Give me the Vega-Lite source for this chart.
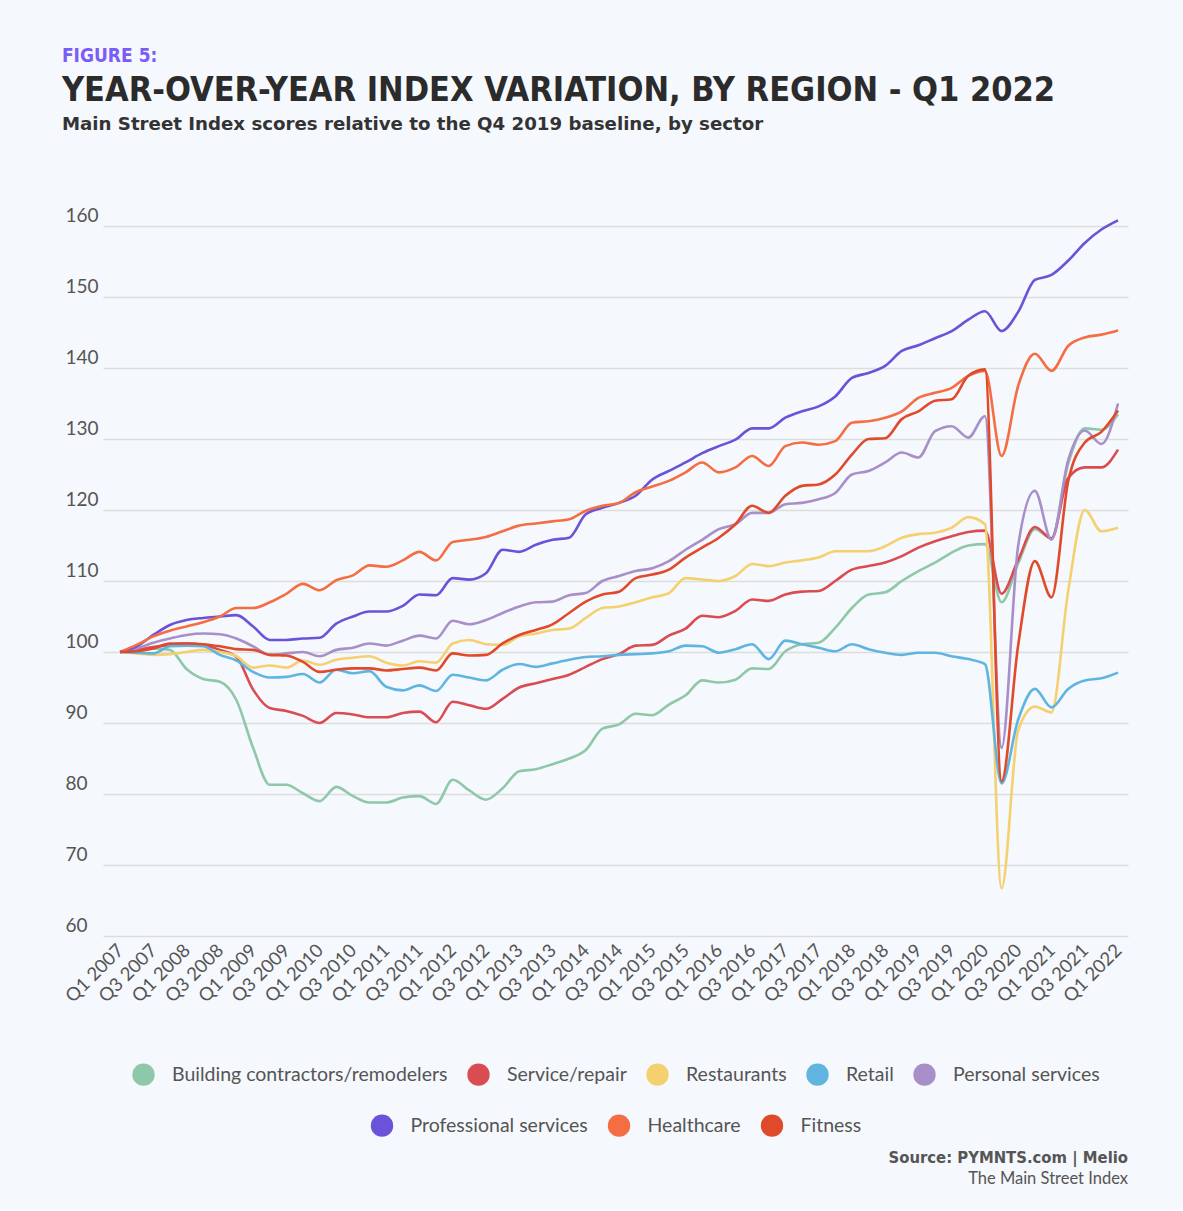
{
  "$schema": "https://vega.github.io/schema/vega-lite/v6.json",
  "background": "#f5f8fc",
  "padding": {"left": 61, "top": 46, "right": 55, "bottom": 22},
  "title": {"text": "FIGURE 5:", "anchor": "start", "font": "DejaVu Sans Condensed, sans-serif", "fontSize": 19, "fontWeight": "bold", "color": "#7b5cf6", "offset": 8},
  "spacing": 0,
  "vconcat": [
    {
      "title": {"text": "YEAR-OVER-YEAR INDEX VARIATION, BY REGION - Q1 2022", "subtitle": "Main Street Index scores relative to the Q4 2019 baseline, by sector", "anchor": "start", "font": "DejaVu Sans Condensed, sans-serif", "fontSize": 34, "fontWeight": "bold", "color": "#2b2b2b", "subtitleFont": "DejaVu Sans, sans-serif", "subtitleFontSize": 18.2, "subtitleFontWeight": "bold", "subtitleColor": "#333333", "subtitlePadding": 8, "offset": 73},
      "vconcat": [
        {
          "width": 1025,
          "height": 710,
          "title": {"text": "Source: PYMNTS.com  |  Melio", "subtitle": "The Main Street Index", "orient": "bottom", "anchor": "end", "font": "DejaVu Sans Condensed, sans-serif", "fontSize": 16.5, "fontWeight": "bold", "color": "#555555", "subtitleFont": "Lato", "subtitleFontSize": 16.5, "subtitleColor": "#555555", "subtitlePadding": 4, "offset": 13},
          "data": {"values": [
            {"t": 2007, "Building contractors/remodelers": 100, "Service/repair": 100, "Restaurants": 100, "Retail": 100, "Personal services": 100, "Professional services": 100, "Healthcare": 100, "Fitness": 100},
            {"t": 2007.25, "Building contractors/remodelers": 100.2, "Service/repair": 100.3, "Restaurants": 99.8, "Retail": 99.9, "Personal services": 100.5, "Professional services": 100.8, "Healthcare": 101, "Fitness": 100.1},
            {"t": 2007.5, "Building contractors/remodelers": 100.5, "Service/repair": 100.7, "Restaurants": 99.6, "Retail": 99.8, "Personal services": 101.3, "Professional services": 102.4, "Healthcare": 102.2, "Fitness": 100.5},
            {"t": 2007.75, "Building contractors/remodelers": 100.3, "Service/repair": 101, "Restaurants": 99.7, "Retail": 100.8, "Personal services": 101.9, "Professional services": 103.8, "Healthcare": 103, "Fitness": 101.2},
            {"t": 2008, "Building contractors/remodelers": 97.6, "Service/repair": 101.2, "Restaurants": 100, "Retail": 100.9, "Personal services": 102.4, "Professional services": 104.5, "Healthcare": 103.6, "Fitness": 101.2},
            {"t": 2008.25, "Building contractors/remodelers": 96.2, "Service/repair": 101, "Restaurants": 100.3, "Retail": 100.8, "Personal services": 102.6, "Professional services": 104.8, "Healthcare": 104.2, "Fitness": 101.1},
            {"t": 2008.5, "Building contractors/remodelers": 95.8, "Service/repair": 100.3, "Restaurants": 100, "Retail": 99.6, "Personal services": 102.5, "Professional services": 105, "Healthcare": 105, "Fitness": 100.8},
            {"t": 2008.75, "Building contractors/remodelers": 93.2, "Service/repair": 99.3, "Restaurants": 99.4, "Retail": 98.8, "Personal services": 101.9, "Professional services": 105.2, "Healthcare": 106.2, "Fitness": 100.4},
            {"t": 2009, "Building contractors/remodelers": 86.5, "Service/repair": 94.7, "Restaurants": 97.8, "Retail": 97.2, "Personal services": 100.8, "Professional services": 103.6, "Healthcare": 106.2, "Fitness": 100.3},
            {"t": 2009.25, "Building contractors/remodelers": 81.3, "Service/repair": 92.1, "Restaurants": 98.1, "Retail": 96.4, "Personal services": 99.6, "Professional services": 101.7, "Healthcare": 107, "Fitness": 99.6},
            {"t": 2009.5, "Building contractors/remodelers": 81.3, "Service/repair": 91.7, "Restaurants": 97.8, "Retail": 96.5, "Personal services": 99.8, "Professional services": 101.7, "Healthcare": 108.2, "Fitness": 99.5},
            {"t": 2009.75, "Building contractors/remodelers": 80.1, "Service/repair": 91, "Restaurants": 98.8, "Retail": 96.9, "Personal services": 100, "Professional services": 101.9, "Healthcare": 109.6, "Fitness": 98.6},
            {"t": 2010, "Building contractors/remodelers": 79, "Service/repair": 90, "Restaurants": 98.2, "Retail": 95.7, "Personal services": 99.4, "Professional services": 102, "Healthcare": 108.7, "Fitness": 97.2},
            {"t": 2010.25, "Building contractors/remodelers": 81, "Service/repair": 91.4, "Restaurants": 98.9, "Retail": 97.5, "Personal services": 100.3, "Professional services": 104, "Healthcare": 110.1, "Fitness": 97.5},
            {"t": 2010.5, "Building contractors/remodelers": 79.7, "Service/repair": 91.2, "Restaurants": 99.2, "Retail": 97, "Personal services": 100.6, "Professional services": 105, "Healthcare": 110.8, "Fitness": 97.7},
            {"t": 2010.75, "Building contractors/remodelers": 78.8, "Service/repair": 90.8, "Restaurants": 99.4, "Retail": 97.3, "Personal services": 101.2, "Professional services": 105.7, "Healthcare": 112.2, "Fitness": 97.7},
            {"t": 2011, "Building contractors/remodelers": 78.8, "Service/repair": 90.8, "Restaurants": 98.5, "Retail": 95.1, "Personal services": 100.9, "Professional services": 105.7, "Healthcare": 112, "Fitness": 97.4},
            {"t": 2011.25, "Building contractors/remodelers": 79.5, "Service/repair": 91.4, "Restaurants": 98.1, "Retail": 94.6, "Personal services": 101.6, "Professional services": 106.5, "Healthcare": 112.9, "Fitness": 97.6},
            {"t": 2011.5, "Building contractors/remodelers": 79.7, "Service/repair": 91.6, "Restaurants": 98.7, "Retail": 95.3, "Personal services": 102.3, "Professional services": 108.1, "Healthcare": 114.1, "Fitness": 97.8},
            {"t": 2011.75, "Building contractors/remodelers": 78.6, "Service/repair": 90.1, "Restaurants": 98.5, "Retail": 94.5, "Personal services": 101.9, "Professional services": 108, "Healthcare": 112.9, "Fitness": 97.4},
            {"t": 2012, "Building contractors/remodelers": 82, "Service/repair": 93, "Restaurants": 101.2, "Retail": 96.8, "Personal services": 104.4, "Professional services": 110.4, "Healthcare": 115.5, "Fitness": 99.8},
            {"t": 2012.25, "Building contractors/remodelers": 80.5, "Service/repair": 92.5, "Restaurants": 101.7, "Retail": 96.4, "Personal services": 103.9, "Professional services": 110.2, "Healthcare": 115.8, "Fitness": 99.5},
            {"t": 2012.5, "Building contractors/remodelers": 79.2, "Service/repair": 92, "Restaurants": 101.1, "Retail": 96, "Personal services": 104.5, "Professional services": 111.1, "Healthcare": 116.2, "Fitness": 99.6},
            {"t": 2012.75, "Building contractors/remodelers": 80.8, "Service/repair": 93.4, "Restaurants": 101, "Retail": 97.5, "Personal services": 105.5, "Professional services": 114.4, "Healthcare": 117, "Fitness": 101.2},
            {"t": 2013, "Building contractors/remodelers": 83.2, "Service/repair": 95, "Restaurants": 102.2, "Retail": 98.3, "Personal services": 106.4, "Professional services": 114.1, "Healthcare": 117.8, "Fitness": 102.4},
            {"t": 2013.25, "Building contractors/remodelers": 83.5, "Service/repair": 95.6, "Restaurants": 102.6, "Retail": 97.9, "Personal services": 107, "Professional services": 115.1, "Healthcare": 118.1, "Fitness": 103.1},
            {"t": 2013.5, "Building contractors/remodelers": 84.2, "Service/repair": 96.2, "Restaurants": 103.1, "Retail": 98.4, "Personal services": 107.1, "Professional services": 115.8, "Healthcare": 118.4, "Fitness": 103.9},
            {"t": 2013.75, "Building contractors/remodelers": 85, "Service/repair": 96.8, "Restaurants": 103.3, "Retail": 98.9, "Personal services": 108, "Professional services": 116.1, "Healthcare": 118.7, "Fitness": 105.5},
            {"t": 2014, "Building contractors/remodelers": 86.2, "Service/repair": 97.9, "Restaurants": 104.8, "Retail": 99.3, "Personal services": 108.3, "Professional services": 119.4, "Healthcare": 119.9, "Fitness": 107.1},
            {"t": 2014.25, "Building contractors/remodelers": 89.2, "Service/repair": 99, "Restaurants": 106.2, "Retail": 99.4, "Personal services": 110, "Professional services": 120.3, "Healthcare": 120.6, "Fitness": 108.1},
            {"t": 2014.5, "Building contractors/remodelers": 89.8, "Service/repair": 99.7, "Restaurants": 106.4, "Retail": 99.6, "Personal services": 110.7, "Professional services": 121, "Healthcare": 121, "Fitness": 108.5},
            {"t": 2014.75, "Building contractors/remodelers": 91.3, "Service/repair": 100.9, "Restaurants": 107, "Retail": 99.7, "Personal services": 111.4, "Professional services": 122, "Healthcare": 122.5, "Fitness": 110.4},
            {"t": 2015, "Building contractors/remodelers": 91.1, "Service/repair": 101, "Restaurants": 107.7, "Retail": 99.8, "Personal services": 111.8, "Professional services": 124.3, "Healthcare": 123.3, "Fitness": 110.9},
            {"t": 2015.25, "Building contractors/remodelers": 92.6, "Service/repair": 102.3, "Restaurants": 108.3, "Retail": 100.1, "Personal services": 112.8, "Professional services": 125.5, "Healthcare": 124.1, "Fitness": 111.6},
            {"t": 2015.5, "Building contractors/remodelers": 93.9, "Service/repair": 103.3, "Restaurants": 110.4, "Retail": 100.9, "Personal services": 114.4, "Professional services": 126.7, "Healthcare": 125.3, "Fitness": 113.3},
            {"t": 2015.75, "Building contractors/remodelers": 96, "Service/repair": 105.1, "Restaurants": 110.2, "Retail": 100.8, "Personal services": 115.8, "Professional services": 128, "Healthcare": 126.7, "Fitness": 114.7},
            {"t": 2016, "Building contractors/remodelers": 95.7, "Service/repair": 104.9, "Restaurants": 110, "Retail": 99.9, "Personal services": 117.3, "Professional services": 129, "Healthcare": 125.3, "Fitness": 116.1},
            {"t": 2016.25, "Building contractors/remodelers": 96.1, "Service/repair": 105.8, "Restaurants": 110.7, "Retail": 100.4, "Personal services": 118, "Professional services": 129.9, "Healthcare": 126, "Fitness": 118},
            {"t": 2016.5, "Building contractors/remodelers": 97.7, "Service/repair": 107.4, "Restaurants": 112.4, "Retail": 101.1, "Personal services": 119.6, "Professional services": 131.5, "Healthcare": 127.6, "Fitness": 120.6},
            {"t": 2016.75, "Building contractors/remodelers": 97.6, "Service/repair": 107.2, "Restaurants": 112.1, "Retail": 99, "Personal services": 119.6, "Professional services": 131.5, "Healthcare": 126.2, "Fitness": 119.6},
            {"t": 2017, "Building contractors/remodelers": 100.1, "Service/repair": 108.1, "Restaurants": 112.6, "Retail": 101.6, "Personal services": 120.8, "Professional services": 133, "Healthcare": 129, "Fitness": 122},
            {"t": 2017.25, "Building contractors/remodelers": 101.1, "Service/repair": 108.5, "Restaurants": 112.9, "Retail": 101.1, "Personal services": 121, "Professional services": 133.9, "Healthcare": 129.5, "Fitness": 123.4},
            {"t": 2017.5, "Building contractors/remodelers": 101.3, "Service/repair": 108.6, "Restaurants": 113.3, "Retail": 100.6, "Personal services": 121.5, "Professional services": 134.6, "Healthcare": 129.2, "Fitness": 123.6},
            {"t": 2017.75, "Building contractors/remodelers": 103.4, "Service/repair": 110, "Restaurants": 114.2, "Retail": 100.1, "Personal services": 122.4, "Professional services": 136, "Healthcare": 129.7, "Fitness": 125},
            {"t": 2018, "Building contractors/remodelers": 106.2, "Service/repair": 111.6, "Restaurants": 114.2, "Retail": 101.1, "Personal services": 125, "Professional services": 138.6, "Healthcare": 132.3, "Fitness": 127.8},
            {"t": 2018.25, "Building contractors/remodelers": 108.1, "Service/repair": 112.1, "Restaurants": 114.2, "Retail": 100.4, "Personal services": 125.5, "Professional services": 139.3, "Healthcare": 132.5, "Fitness": 130},
            {"t": 2018.5, "Building contractors/remodelers": 108.4, "Service/repair": 112.6, "Restaurants": 114.9, "Retail": 99.9, "Personal services": 126.7, "Professional services": 140.3, "Healthcare": 133, "Fitness": 130.1},
            {"t": 2018.75, "Building contractors/remodelers": 110, "Service/repair": 113.5, "Restaurants": 116.1, "Retail": 99.6, "Personal services": 128.1, "Professional services": 142.4, "Healthcare": 133.9, "Fitness": 132.8},
            {"t": 2019, "Building contractors/remodelers": 111.4, "Service/repair": 114.7, "Restaurants": 116.6, "Retail": 99.9, "Personal services": 127.4, "Professional services": 143.2, "Healthcare": 135.8, "Fitness": 133.9},
            {"t": 2019.25, "Building contractors/remodelers": 112.6, "Service/repair": 115.6, "Restaurants": 116.8, "Retail": 99.9, "Personal services": 131.1, "Professional services": 144.2, "Healthcare": 136.5, "Fitness": 135.4},
            {"t": 2019.5, "Building contractors/remodelers": 114, "Service/repair": 116.3, "Restaurants": 117.5, "Retail": 99.4, "Personal services": 131.8, "Professional services": 145.2, "Healthcare": 137.2, "Fitness": 135.6},
            {"t": 2019.75, "Building contractors/remodelers": 115, "Service/repair": 116.9, "Restaurants": 119, "Retail": 99, "Personal services": 130.2, "Professional services": 146.8, "Healthcare": 138.9, "Fitness": 138.9},
            {"t": 2020, "Building contractors/remodelers": 115.2, "Service/repair": 117.1, "Restaurants": 118, "Retail": 98.3, "Personal services": 133.2, "Professional services": 148, "Healthcare": 139.6, "Fitness": 139.8},
            {"t": 2020.25, "Building contractors/remodelers": 107, "Service/repair": 108.2, "Restaurants": 66.7, "Retail": 81.5, "Personal services": 86.5, "Professional services": 145.2, "Healthcare": 127.6, "Fitness": 81.8},
            {"t": 2020.5, "Building contractors/remodelers": 112.5, "Service/repair": 113, "Restaurants": 89, "Retail": 90.5, "Personal services": 115, "Professional services": 147.9, "Healthcare": 137.5, "Fitness": 101},
            {"t": 2020.75, "Building contractors/remodelers": 117.3, "Service/repair": 117.6, "Restaurants": 92.3, "Retail": 94.8, "Personal services": 122.7, "Professional services": 152.4, "Healthcare": 142, "Fitness": 112.8},
            {"t": 2021, "Building contractors/remodelers": 116, "Service/repair": 116, "Restaurants": 91.5, "Retail": 92.2, "Personal services": 115.8, "Professional services": 153.1, "Healthcare": 139.6, "Fitness": 107.7},
            {"t": 2021.25, "Building contractors/remodelers": 126.5, "Service/repair": 124.5, "Restaurants": 108.5, "Retail": 94.8, "Personal services": 127, "Professional services": 155.1, "Healthcare": 143.1, "Fitness": 124},
            {"t": 2021.5, "Building contractors/remodelers": 131.5, "Service/repair": 126, "Restaurants": 120, "Retail": 96, "Personal services": 131.2, "Professional services": 157.6, "Healthcare": 144.3, "Fitness": 129.5},
            {"t": 2021.75, "Building contractors/remodelers": 131.3, "Service/repair": 126, "Restaurants": 117, "Retail": 96.3, "Personal services": 129.3, "Professional services": 159.5, "Healthcare": 144.7, "Fitness": 131},
            {"t": 2022, "Building contractors/remodelers": 133.5, "Service/repair": 128.5, "Restaurants": 117.5, "Retail": 97.1, "Personal services": 135, "Professional services": 160.8, "Healthcare": 145.3, "Fitness": 134}
          ]},
          "transform": [
            {"fold": ["Building contractors/remodelers", "Service/repair", "Restaurants", "Retail", "Personal services", "Professional services", "Healthcare", "Fitness"], "as": ["sector", "value"]}
          ],
          "encoding": {
            "x": {
              "field": "t", "type": "quantitative",
              "scale": {"domain": [2006.744, 2022.15], "nice": false, "zero": false},
              "axis": {
                "title": null, "grid": false, "domain": false, "ticks": false, "tickSize": 0,
                "values": [2007, 2007.5, 2008, 2008.5, 2009, 2009.5, 2010, 2010.5, 2011, 2011.5, 2012, 2012.5, 2013, 2013.5, 2014, 2014.5, 2015, 2015.5, 2016, 2016.5, 2017, 2017.5, 2018, 2018.5, 2019, 2019.5, 2020, 2020.5, 2021, 2021.5, 2022],
                "labelExpr": "(datum.value % 1 > 0.25 ? 'Q3 ' : 'Q1 ') + floor(datum.value)",
                "labelAngle": -45, "labelAlign": "right", "labelBaseline": "middle", "labelPadding": 11,
                "labelFont": "Lato", "labelFontSize": 18.5, "labelColor": "#555555", "labelOverlap": false, "labelFlush": false, "labelBound": false
              }
            },
            "y": {
              "field": "value", "type": "quantitative",
              "scale": {"domain": [60, 160], "nice": false, "zero": false},
              "axis": {
                "title": null, "domain": false, "ticks": false, "tickSize": 0,
                "values": [60, 70, 80, 90, 100, 110, 120, 130, 140, 150, 160],
                "grid": true, "gridColor": "#dddddd", "gridWidth": 1.5,
                "labelFont": "Lato", "labelFontSize": 19, "labelColor": "#555555",
                "labelAlign": "left", "labelPadding": 38, "labelBaseline": "alphabetic", "labelOffset": -5, "labelFlush": false
              }
            }
          },
          "layer": [
            {
              "mark": {"type": "line", "interpolate": "monotone", "strokeWidth": 2.6},
              "encoding": {
                "color": {
                  "field": "sector", "type": "nominal",
                  "scale": {
                    "domain": ["Building contractors/remodelers", "Service/repair", "Restaurants", "Retail", "Personal services", "Professional services", "Healthcare", "Fitness"],
                    "range": ["#8fc8a8", "#d94c52", "#f5d06f", "#5fb5e0", "#a98fc9", "#6a52d9", "#f46d43", "#e04a2b"]
                  },
                  "legend": null
                }
              }
            },
            {
              "transform": [{"filter": {"field": "sector", "oneOf": ["Building contractors/remodelers", "Service/repair", "Restaurants", "Retail", "Personal services"]}}],
              "mark": {"type": "point", "filled": true, "opacity": 0},
              "encoding": {
                "fill": {
                  "field": "sector", "type": "nominal",
                  "scale": {
                    "domain": ["Building contractors/remodelers", "Service/repair", "Restaurants", "Retail", "Personal services"],
                    "range": ["#8fc8a8", "#d94c52", "#f5d06f", "#5fb5e0", "#a98fc9"]
                  },
                  "legend": {"orient": "bottom", "direction": "horizontal", "title": null, "symbolType": "circle", "symbolSize": 500, "symbolOpacity": 1, "symbolStrokeWidth": 0, "labelFont": "Lato", "labelFontSize": 19.5, "labelColor": "#555555", "labelOffset": 17, "columnPadding": 19, "labelLimit": 400, "offset": 57}
                }
              }
            },
            {
              "transform": [{"filter": {"field": "sector", "oneOf": ["Professional services", "Healthcare", "Fitness"]}}],
              "mark": {"type": "point", "filled": true, "opacity": 0},
              "encoding": {
                "fill": {
                  "field": "sector", "type": "nominal",
                  "scale": {
                    "domain": ["Professional services", "Healthcare", "Fitness"],
                    "range": ["#6a52d9", "#f46d43", "#e04a2b"]
                  },
                  "legend": {"orient": "bottom", "direction": "horizontal", "title": null, "symbolType": "circle", "symbolSize": 500, "symbolOpacity": 1, "symbolStrokeWidth": 0, "labelFont": "Lato", "labelFontSize": 19.5, "labelColor": "#555555", "labelOffset": 17, "columnPadding": 19, "labelLimit": 400, "offset": 57}
                }
              }
            }
          ],
          "resolve": {"scale": {"fill": "independent"}}
        }
      ]
    }
  ],
  "config": {
    "view": {"stroke": null},
    "font": "Lato",
    "legend": {"layout": {"bottom": {"anchor": "middle", "direction": "vertical", "center": true, "margin": 28}}}
  }
}
